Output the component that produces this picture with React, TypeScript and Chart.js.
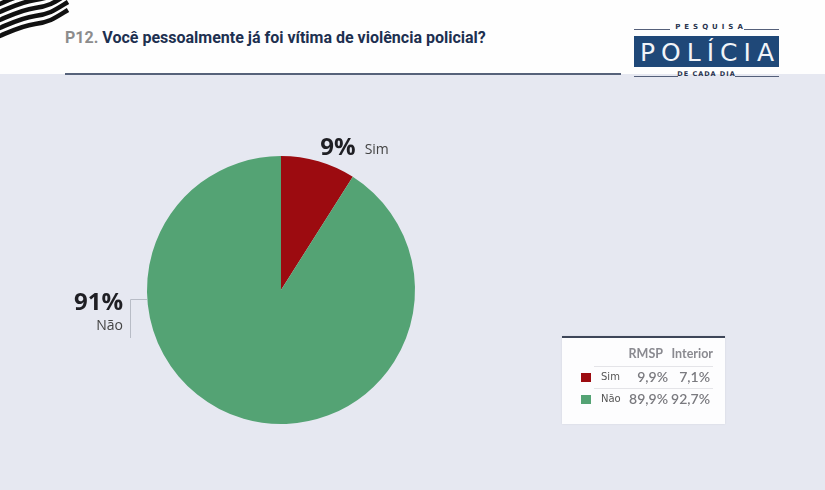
import React, { useEffect, useRef } from 'react';
import { Chart, registerables } from 'chart.js';

Chart.register(...registerables);

const categories = ['Sim', 'Não'];
const totalValues = [9, 91];
const colors = ['#9c0b10', '#54a374'];
const tableColumns = ['RMSP', 'Interior'];
const rmspValues = [9.9, 89.9];
const interiorValues = [7.1, 92.7];
const titlePrefix = 'P12.';
const titleText = 'Você pessoalmente já foi vítima de violência policial?';

const fmt = (v: number) => v.toFixed(1).replace('.', ',') + '%';

const labelPlugin = {
  id: 'sliceLabels',
  afterDatasetsDraw(chart: any) {
    const ctx = chart.ctx;
    const meta = chart.getDatasetMeta(0);
    meta.data.forEach((arc: any, i: number) => {
      const { x, y, outerRadius: R, startAngle, endAngle } = arc.getProps(['x', 'y', 'outerRadius', 'startAngle', 'endAngle'], true);
      const pct = totalValues[i] + '%';
      const name = categories[i];
      ctx.save();
      if (i === 0) {
        const mid = (startAngle + endAngle) / 2;
        const ax = x + Math.cos(mid) * (R + 14) - 2;
        const ay = y + Math.sin(mid) * (R + 14) + 7;
        ctx.font = 'bold 24px "Open Sans", sans-serif';
        ctx.fillStyle = '#1f1f24';
        ctx.textAlign = 'left';
        ctx.textBaseline = 'alphabetic';
        ctx.fillText(pct, ax, ay);
        const w = ctx.measureText(pct).width;
        ctx.font = '14px "Open Sans", sans-serif';
        ctx.fillStyle = '#444';
        ctx.fillText(name, ax + w + 9, ay - 1);
      } else {
        const rx = x - R - 24;
        ctx.font = 'bold 24px "Open Sans", sans-serif';
        ctx.fillStyle = '#1f1f24';
        ctx.textAlign = 'right';
        ctx.fillText(pct, rx, y + 20);
        ctx.font = '14px "Open Sans", sans-serif';
        ctx.fillStyle = '#444';
        ctx.fillText(name, rx, y + 40);
        ctx.strokeStyle = '#b8bcc6';
        ctx.lineWidth = 1;
        ctx.beginPath();
        ctx.moveTo(x - R, y + 9.5);
        ctx.lineTo(x - R - 16.5, y + 9.5);
        ctx.lineTo(x - R - 16.5, y + 48);
        ctx.stroke();
      }
      ctx.restore();
    });
  },
};

function ChartCanvas() {
  const ref = useRef<HTMLCanvasElement | null>(null);
  useEffect(() => {
    if (!ref.current) return;
    const chart = new Chart(ref.current, {
      type: 'pie',
      data: {
        labels: categories,
        datasets: [
          {
            data: totalValues,
            backgroundColor: colors,
            borderWidth: 0,
            hoverOffset: 0,
          },
        ],
      },
      options: {
        animation: false,
        responsive: false,
        events: [],
        layout: { padding: { left: 147, right: 410, top: 156, bottom: 66 } },
        plugins: { legend: { display: false }, tooltip: { enabled: false } },
      },
      plugins: [labelPlugin],
    });
    return () => chart.destroy();
  }, []);
  return <canvas ref={ref} width={825} height={490} style={{ position: 'absolute', left: 0, top: 0, width: 825, height: 490 }} />;
}

function Flag() {
  return (
    <svg width={70} height={45} style={{ position: 'absolute', left: 0, top: 0 }}>
      {[0, 1, 2, 3, 4].map((k) => {
        const o = k * 8;
        return (
          <path
            key={k}
            d={`M -10 ${8 + o} C 10 ${0 + o}, 20 ${-6 + o}, 35 ${-8 + o} S 55 ${-14 + o}, 68 ${-22 + o}`}
            stroke="#111"
            strokeWidth={4.5}
            fill="none"
          />
        );
      })}
    </svg>
  );
}

function Logo() {
  const line = (l: number, t: number, w: number) => (
    <div style={{ position: 'absolute', left: l, top: t, width: w, height: 1, background: '#55607a' }} />
  );
  return (
    <div style={{ position: 'absolute', left: 0, top: 0 }}>
      {line(634, 29, 36)}
      {line(744, 29, 35)}
      <div style={{ position: 'absolute', left: 670, top: 23, width: 74, textAlign: 'center', font: 'bold 7px "DejaVu Sans", sans-serif', letterSpacing: 4, color: '#2a3550', paddingLeft: 4, whiteSpace: 'nowrap' }}>PESQUISA</div>
      <div style={{ position: 'absolute', left: 634, top: 36, width: 145, height: 31, background: '#1f4878', color: '#f2f4f8', textAlign: 'center', font: '25px "DejaVu Sans", sans-serif', letterSpacing: 6, lineHeight: '33px', paddingLeft: 6, boxSizing: 'border-box', whiteSpace: 'nowrap' }}>POLÍCIA</div>
      {line(634, 76, 44)}
      {line(735, 76, 44)}
      <div style={{ position: 'absolute', left: 676, top: 70, width: 61, textAlign: 'center', font: 'bold 6.5px "DejaVu Sans", sans-serif', letterSpacing: 1, color: '#2a3550', whiteSpace: 'nowrap' }}>DE CADA DIA</div>
    </div>
  );
}

function Table() {
  const cell: React.CSSProperties = { position: 'absolute', textAlign: 'right', font: '600 14px Lato, sans-serif', color: '#7a7a7f', whiteSpace: 'nowrap' };
  return (
    <div style={{ position: 'absolute', left: 562, top: 336, width: 163, height: 86, background: '#fdfdfe', borderTop: '2px solid #3e4659', boxShadow: '0 0 2px rgba(0,0,0,0.08)' }}>
      <div style={{ ...cell, left: 60, top: 8, width: 41, font: 'bold 12.5px Lato, sans-serif', color: '#8a8a90' }}>{tableColumns[0]}</div>
      <div style={{ ...cell, left: 100, top: 8, width: 51, font: 'bold 12.5px Lato, sans-serif', color: '#8a8a90' }}>{tableColumns[1]}</div>
      {[0, 1].map((i) => (
        <React.Fragment key={i}>
          <div style={{ position: 'absolute', left: 32, top: 28 + i * 22, width: 119, height: 1, background: '#e4e4e8' }} />
          <div style={{ position: 'absolute', left: 19, top: 35 + i * 22, width: 10, height: 9, background: colors[i] }} />
          <div style={{ position: 'absolute', left: 39, top: 33 + i * 22, font: '10px "DejaVu Sans", sans-serif', color: '#555' }}>{categories[i]}</div>
          <div style={{ ...cell, left: 55, top: 30 + i * 22, width: 51 }}>{fmt(rmspValues[i])}</div>
          <div style={{ ...cell, left: 100, top: 30 + i * 22, width: 48 }}>{fmt(interiorValues[i])}</div>
        </React.Fragment>
      ))}
    </div>
  );
}

export default function App() {
  return (
    <div style={{ position: 'fixed', left: 0, top: 0, width: 825, height: 490, background: '#e6e8f1', overflow: 'hidden' }}>
      <div style={{ position: 'absolute', left: 0, top: 0, width: 825, height: 74, background: '#fefefe' }} />
      <Flag />
      <div style={{ position: 'absolute', left: 65, top: 28, font: 'bold 16px Roboto, sans-serif', color: '#1d3050', whiteSpace: 'nowrap' }}>
        <span style={{ color: '#8c8c8c' }}>{titlePrefix}</span> {titleText}
      </div>
      <div style={{ position: 'absolute', left: 65, top: 73, width: 556, height: 2, background: '#56627a' }} />
      <Logo />
      <ChartCanvas />
      <Table />
    </div>
  );
}
